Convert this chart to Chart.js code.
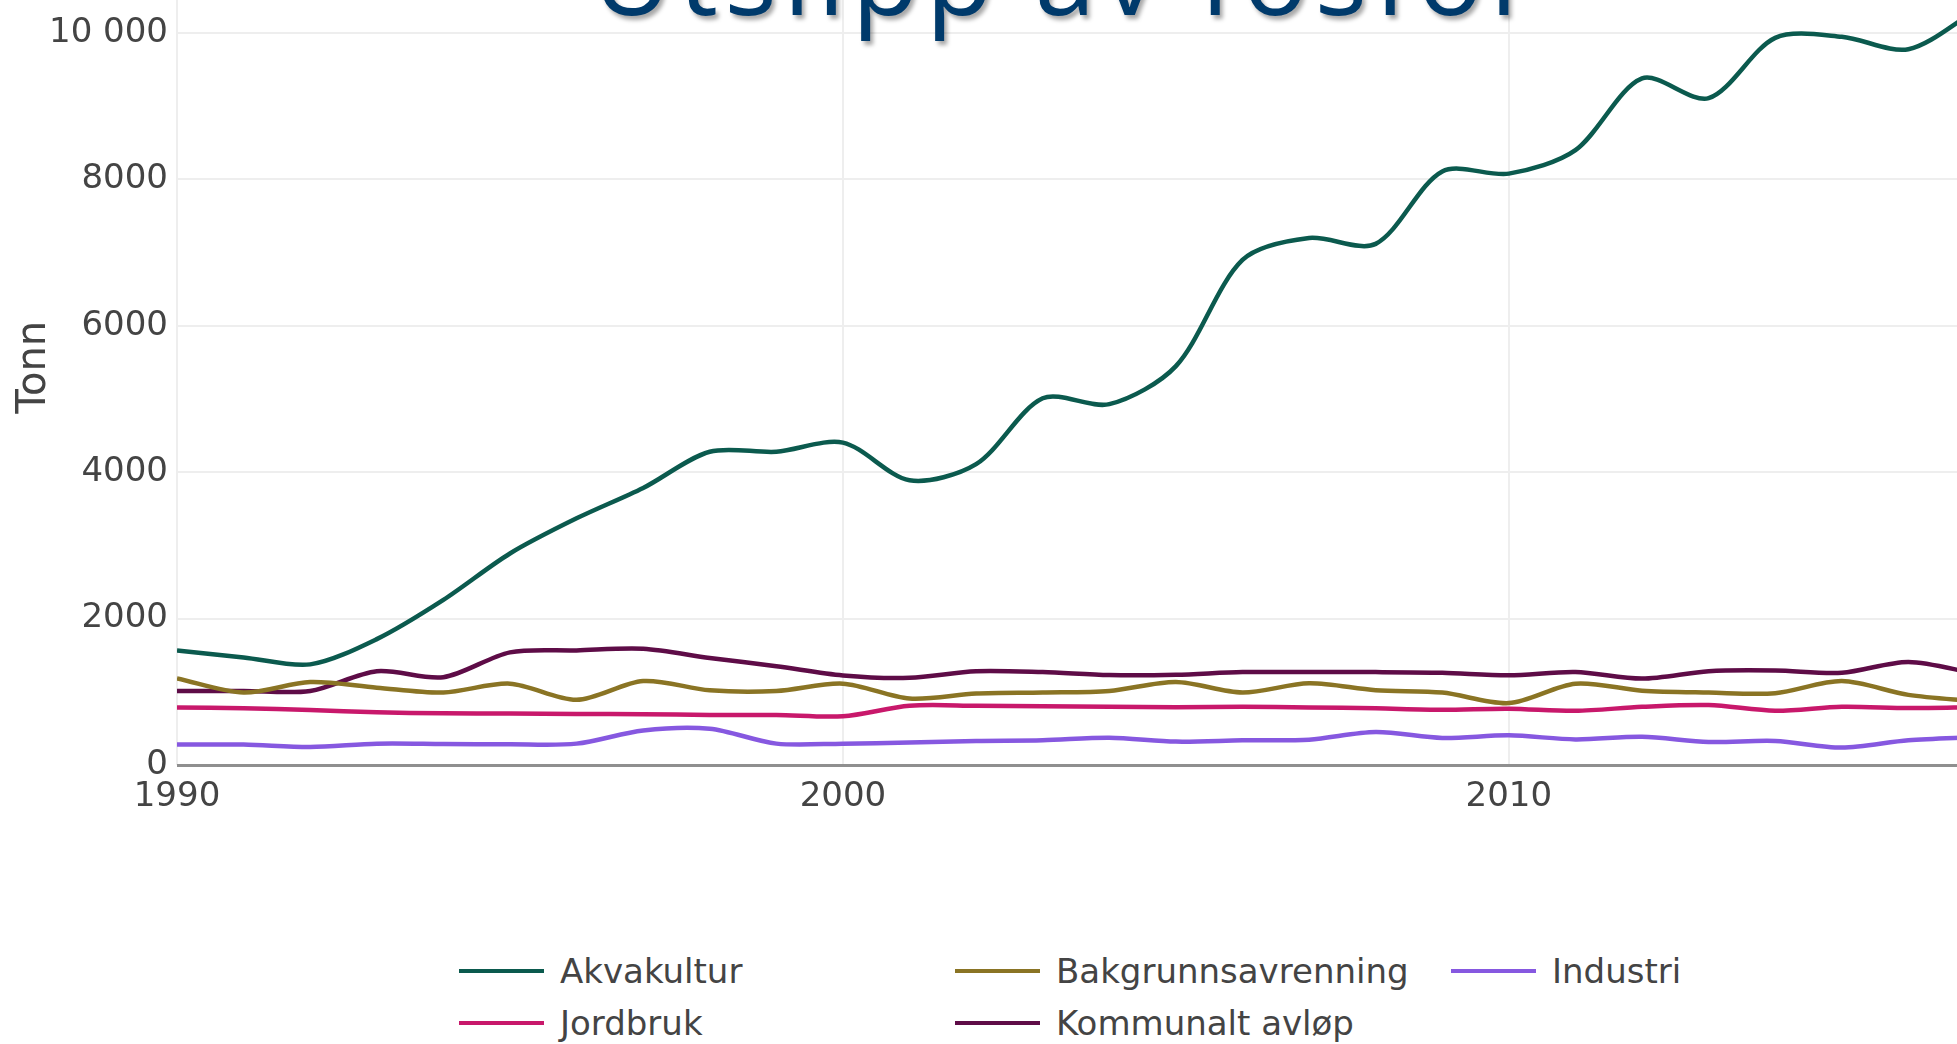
<!DOCTYPE html>
<html lang="no">
<head>
    <meta charset="UTF-8">
    <title>Utslipp av fosfor</title>
    <script src="https://cdn.jsdelivr.net/npm/chart.js@4"></script>
    <style>
        html, body {
            margin: 0;
            padding: 0;
            background: #fff;
            width: 1957px;
            height: 1044px;
            overflow: hidden;
        }

        .slide-title {
            position: absolute;
            left: 592px;
            top: -83px;
            margin: 0;
            font-family: 'Open Sans', sans-serif;
            font-weight: 400;
            font-size: 110px;
            line-height: 1;
            letter-spacing: 6.5px;
            color: #003a6b;
            white-space: nowrap;
            text-shadow: 3px 4px 4px rgba(0, 0, 0, 0.35);
            z-index: 2;
        }

        .chart-box {
            position: absolute;
            left: 0;
            top: -60px;
            width: 2000px;
            height: 900px;
        }

        .legend {
            position: absolute;
            left: 459px;
            top: 947px;
            display: grid;
            grid-template-columns: 496px 496px 496px;
            row-gap: 4px;
            font-family: 'DejaVu Sans', sans-serif;
            font-size: 34px;
            color: #444;
        }

        .legend-item {
            display: flex;
            align-items: center;
            height: 48px;
            white-space: nowrap;
        }

        .legend-item .swatch {
            width: 85px;
            height: 4px;
            margin-right: 16px;
        }
    </style>
</head>
<body>
    <h1 class="slide-title">Utslipp av fosfor</h1>
    <div class="chart-box">
        <canvas id="fosforChart"></canvas>
    </div>
    <div class="legend" id="legend"></div>

    <script>
        // år og utslipp (tonn) per kilde
        const years = [1990, 1991, 1992, 1993, 1994, 1995, 1996, 1997, 1998, 1999,
                       2000, 2001, 2002, 2003, 2004, 2005, 2006, 2007, 2008, 2009,
                       2010, 2011, 2012, 2013, 2014, 2015, 2016, 2017];

        const akvakultur = [1566, 1470, 1375, 1720, 2256, 2890, 3370, 3785, 4280, 4280,
                            4405, 3890, 4110, 5010, 4930, 5450, 6900, 7200, 7120, 8110,
                            8080, 8400, 9380, 9110, 9935, 9950, 9780, 10300];

        const bakgrunn = [1183, 990, 1134, 1057, 990, 1111, 891, 1147, 1021, 1012,
                          1111, 909, 976, 990, 1012, 1134, 990, 1116, 1021, 990,
                          846, 1111, 1015, 990, 981, 1147, 958, 870];

        const industri = [279, 279, 247, 292, 288, 283, 292, 472, 495, 292,
                          292, 306, 328, 337, 373, 320, 337, 346, 450, 369,
                          405, 350, 385, 315, 328, 238, 337, 380];

        const jordbruk = [787, 774, 751, 720, 706, 702, 697, 693, 684, 684,
                          666, 810, 810, 801, 796, 790, 796, 787, 774, 756,
                          770, 740, 795, 819, 742, 796, 778, 790];

        const kommunalt = [1012, 1012, 1012, 1282, 1200, 1539, 1566, 1588, 1462, 1350,
                           1224, 1192, 1282, 1269, 1228, 1232, 1269, 1269, 1269, 1260,
                           1225, 1271, 1181, 1282, 1291, 1260, 1408, 1250];

        const seriesNames = ['Akvakultur', 'Bakgrunnsavrenning', 'Industri', 'Jordbruk', 'Kommunalt avløp'];
        const seriesValues = [akvakultur, bakgrunn, industri, jordbruk, kommunalt];
        const seriesColors = ['#0b5a4e', '#8a7424', '#8658e0', '#c8186b', '#5e0c47'];

        const yTicks = [0, 2000, 4000, 6000, 8000, 10000];
        const yTickLabels = ['0', '2000', '4000', '6000', '8000', '10 000'];
        const xTicks = [1990, 2000, 2010];
        const xTickLabels = ['1990', '2000', '2010'];

        Chart.defaults.font.family = "'DejaVu Sans', sans-serif";

        const datasets = seriesNames.map((name, i) => ({
            label: name,
            data: years.map((yr, j) => ({ x: yr, y: seriesValues[i][j] })),
            borderColor: seriesColors[i],
            backgroundColor: seriesColors[i],
            fill: false
        }));

        const ctx = document.getElementById('fosforChart').getContext('2d');
        const fosforChart = new Chart(ctx, {
            type: 'line',
            data: { datasets: datasets },
            options: {
                responsive: true,
                maintainAspectRatio: false,
                animation: false,
                layout: { padding: { top: 19, left: 0, right: 25, bottom: 0 } },
                plugins: {
                    legend: { display: false },
                    tooltip: { enabled: false }
                },
                elements: {
                    point: { radius: 0 },
                    line: { borderWidth: 4.5, tension: 0.3 }
                },
                scales: {
                    x: {
                        type: 'linear',
                        min: 1990,
                        max: 2017,
                        afterBuildTicks: s => { s.ticks = xTicks.map(v => ({ value: v })); },
                        afterFit: s => { s.height = 75; },
                        border: { display: false },
                        grid: { color: '#eeeeee', lineWidth: 2, drawTicks: false },
                        ticks: {
                            padding: 12,
                            color: '#444',
                            font: { size: 34 },
                            maxRotation: 0,
                            autoSkip: false,
                            callback: v => xTickLabels[xTicks.indexOf(v)]
                        }
                    },
                    y: {
                        min: 0,
                        max: 10870,
                        afterBuildTicks: s => { s.ticks = yTicks.map(v => ({ value: v })); },
                        afterFit: s => { s.width = 177; },
                        border: { display: false },
                        grid: {
                            color: c => (c.tick && c.tick.value === 0) ? '#8f8f8f' : '#eeeeee',
                            lineWidth: c => (c.tick && c.tick.value === 0) ? 3 : 2,
                            drawTicks: false
                        },
                        title: {
                            display: true,
                            text: 'Tonn',
                            color: '#444',
                            font: { size: 40 },
                            padding: { top: 11, bottom: 0 }
                        },
                        ticks: {
                            padding: 9,
                            color: '#444',
                            font: { size: 34 },
                            autoSkip: false,
                            callback: v => yTickLabels[yTicks.indexOf(v)]
                        }
                    }
                }
            }
        });

        // legend som i originalen: tre faste kolonner
        const legendEl = document.getElementById('legend');
        seriesNames.forEach((name, i) => {
            const item = document.createElement('div');
            item.className = 'legend-item';
            const sw = document.createElement('span');
            sw.className = 'swatch';
            sw.style.background = seriesColors[i];
            item.appendChild(sw);
            item.appendChild(document.createTextNode(name));
            legendEl.appendChild(item);
        });
    </script>
</body>
</html>
